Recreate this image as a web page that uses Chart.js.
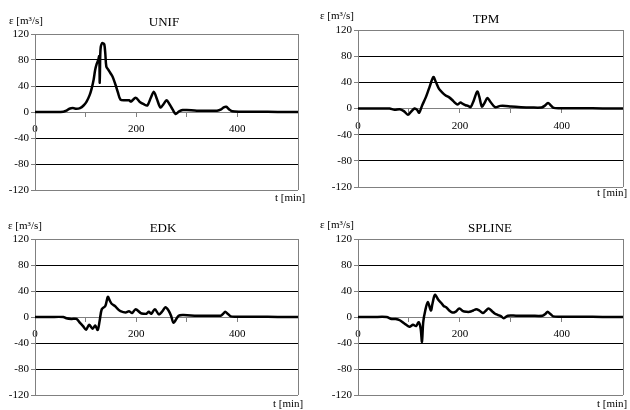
<!DOCTYPE html>
<html>
<head>
<meta charset="utf-8">
<script src="https://cdn.jsdelivr.net/npm/chart.js@4/dist/chart.umd.min.js"></script>
<style>
  body { margin: 0; background: #fff; }
  #wrap { position: relative; width: 630px; height: 410px; overflow: hidden; font-family: "Liberation Serif", "DejaVu Serif", serif; color: #000; }
  canvas { position: absolute; left: 0; top: 0; }
  .lbl { position: absolute; font-size: 11px; line-height: 13px; white-space: nowrap; }
  .ttl { position: absolute; font-size: 13px; line-height: 15px; white-space: nowrap; transform: translateX(-50%); }
</style>
</head>
<body>
<div id="wrap">
  <canvas id="c1" width="630" height="410"></canvas>
  <canvas id="c2" width="630" height="410"></canvas>
  <canvas id="c3" width="630" height="410"></canvas>
  <canvas id="c4" width="630" height="410"></canvas>

  <div class="lbl" style="left:9px;top:14px">ε [m³/s]</div>
  <div class="ttl" style="left:164px;top:14px">UNIF</div>
  <div class="lbl" style="left:275px;top:191px">t [min]</div>

  <div class="lbl" style="left:320px;top:9px">ε [m³/s]</div>
  <div class="ttl" style="left:486px;top:11px">TPM</div>
  <div class="lbl" style="left:597px;top:186px">t [min]</div>

  <div class="lbl" style="left:8px;top:219px">ε [m³/s]</div>
  <div class="ttl" style="left:163px;top:220px">EDK</div>
  <div class="lbl" style="left:273px;top:397px">t [min]</div>

  <div class="lbl" style="left:320px;top:218px">ε [m³/s]</div>
  <div class="ttl" style="left:490px;top:220px">SPLINE</div>
  <div class="lbl" style="left:597px;top:397px">t [min]</div>
</div>
<script>
// axis ticks
const yTicks = [-120, -80, -40, 0, 40, 80, 120];
const xLabels = [0, 200, 400];
const tMax = 520;

// UNIF
const unifT = [0, 20, 40, 56, 62, 68, 75, 82, 89, 96, 102, 108, 112, 116, 119, 122, 125, 127, 128, 129, 130, 132, 134, 137, 139, 141, 145, 149, 153, 156, 160, 164, 169, 178, 186, 190, 199, 208, 215, 222, 229, 235, 241, 248, 254, 260, 266, 272, 278, 285, 292, 300, 320, 340, 360, 368, 373, 378, 384, 390, 410, 440, 480, 520];
const unifV = [0, 0, 0, 0.5, 2, 5, 6, 5, 6, 10, 16, 26, 36, 50, 65, 74, 80, 86, 45, 88, 100, 105, 106, 104, 90, 70, 65, 60, 55, 49, 40, 30, 19, 18, 18, 16, 22, 15, 12, 10, 22, 31, 20, 7, 12, 18, 12, 4, -3, 1, 3, 3, 2, 2, 2, 4, 7, 8, 4, 1, 0.5, 0.5, 0, 0];

// TPM
const tpmT = [0, 30, 52, 62, 72, 82, 90, 98, 104, 111, 116, 120, 126, 133, 140, 148, 153, 159, 166, 172, 179, 185, 190, 195, 201, 206, 211, 216, 221, 227, 234, 238, 243, 248, 254, 260, 269, 279, 290, 300, 320, 340, 360, 366, 373, 378, 384, 400, 440, 480, 520];
const tpmV = [0, 0, 0, 0, -2, -1, -4, -9.5, -5, 0, -2, -6.5, 5, 17, 32, 48, 40, 30, 24, 20, 17, 13, 9, 6, 9, 7, 5, 4, 2, 12, 26, 18, 3, 8, 16, 10, 2, 4, 4, 3, 2, 1.5, 1.5, 4, 8.5, 5, 1, 0.5, 0.5, 0, 0];

// EDK
const edkT = [0, 30, 56, 62, 72, 82, 89, 95, 101, 107, 114, 119, 124, 128, 132, 139, 144, 148, 152, 158, 164, 169, 179, 186, 192, 199, 209, 215, 220, 225, 230, 237, 245, 252, 258, 264, 269, 274, 284, 294, 320, 350, 367, 372, 376, 381, 387, 400, 440, 480, 520];
const edkV = [0, 0, 0, -2, -3, -3, -9, -14, -19.5, -12, -18, -13, -20, -5, 12, 17, 31, 25, 20, 17, 12, 9, 7, 9, 6, 12, 6, 5, 5, 8, 5, 12, 4, 9, 15, 10, 2, -9, 2, 3, 2, 2, 2, 5, 8, 5, 1, 0.5, 0.5, 0, 0];

// SPLINE
const splineT = [0, 30, 56, 66, 74, 82, 91, 101, 108, 114, 119, 123, 125.5, 128, 132, 137, 143, 146, 151, 158, 163, 168, 173, 179, 185, 191, 199, 206, 213, 219, 226, 232, 238, 245, 250, 256, 263, 269, 275, 281, 286, 294, 310, 340, 362, 368, 372, 377, 383, 400, 440, 480, 520];
const splineV = [0, 0, 0, -3, -3, -5, -10, -15, -12, -14, -8, -18, -38, -8, 10, 23, 10, 20, 34, 26, 22, 17, 15, 10, 7, 8, 13, 9, 8, 8, 10, 12, 10, 6, 9, 13, 9, 5, 3, 1, -2, 2, 2, 2, 2, 5, 8, 5, 1, 0.5, 0.5, 0, 0];

const GRAY = '#808080';
const FONT = { family: '"Liberation Serif", "DejaVu Serif", serif', size: 11 };

function panel(id, box, ts, vs) {
  const yW = 34;
  new Chart(document.getElementById(id), {
    type: 'line',
    data: {
      datasets: [{
        data: ts.map((t, i) => ({ x: t, y: vs[i] })),
        borderColor: '#000',
        borderWidth: 2.5,
        pointRadius: 0,
        tension: 0.3,
        fill: false
      }]
    },
    options: {
      responsive: false,
      animation: false,
      events: [],
      devicePixelRatio: 1,
      layout: {
        padding: { left: box.l - yW, top: box.t, right: 630 - box.r, bottom: 410 - box.b }
      },
      plugins: { legend: { display: false }, tooltip: { enabled: false } },
      scales: {
        x: {
          type: 'linear',
          position: { y: 0 },
          min: 0,
          max: tMax,
          ticks: {
            stepSize: 100,
            autoSkip: false,
            maxRotation: 0,
            padding: 7,
            color: '#000',
            font: FONT,
            callback: v => xLabels.includes(v) ? String(v) : ''
          },
          grid: {
            drawOnChartArea: true,
            color: c => (c.tick && c.tick.value === tMax) ? GRAY : 'rgba(0,0,0,0)',
            tickColor: c => (c.tick && c.tick.value === tMax) ? 'rgba(0,0,0,0)' : GRAY,
            tickLength: 4
          },
          border: { color: GRAY, width: 1 }
        },
        y: {
          min: -120,
          max: 120,
          afterBuildTicks: s => { s.ticks = yTicks.map(v => ({ value: v })); },
          afterFit: s => { s.width = yW; },
          ticks: { padding: 2, color: '#000', font: FONT },
          grid: {
            color: c => [120, -120, 0].includes(c.tick && c.tick.value) ? GRAY : '#000',
            tickColor: GRAY,
            tickLength: 4
          },
          border: { color: GRAY, width: 1 }
        }
      }
    }
  });
}

panel('c1', { l: 35, t: 34, r: 298, b: 190 }, unifT, unifV);
panel('c2', { l: 358, t: 30, r: 624, b: 187 }, tpmT, tpmV);
panel('c3', { l: 35, t: 239, r: 298, b: 395 }, edkT, edkV);
panel('c4', { l: 358, t: 239, r: 624, b: 395 }, splineT, splineV);
</script>
</body>
</html>
